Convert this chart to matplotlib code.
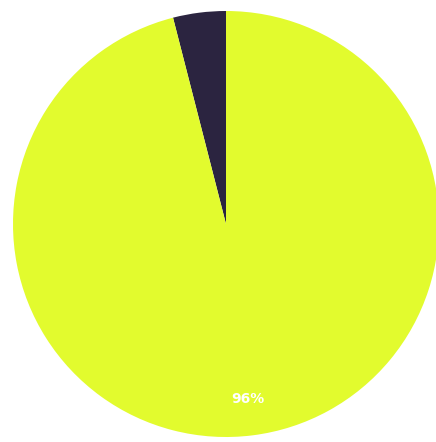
import matplotlib
matplotlib.use("Agg")
import matplotlib.pyplot as plt

labels = ["Other", "Main"]
values = [4, 96]
colors = ["#2b2440", "#e2fb2e"]

fig = plt.figure(figsize=(4.36, 4.42), dpi=100)
ax = fig.add_axes([13 / 436, 5 / 442, 426 / 436, 426 / 442])

wedges, texts, autotexts = ax.pie(
    values,
    colors=colors,
    startangle=90,
    autopct="%1.0f%%",
    pctdistance=0.83,
    textprops={"color": "white", "fontsize": 10, "fontweight": "bold"},
)
autotexts[0].set_visible(False)
ax.set_xlim(-1, 1)
ax.set_ylim(-1, 1)
ax.set_aspect("equal")

fig.savefig("out.png", dpi=100)
